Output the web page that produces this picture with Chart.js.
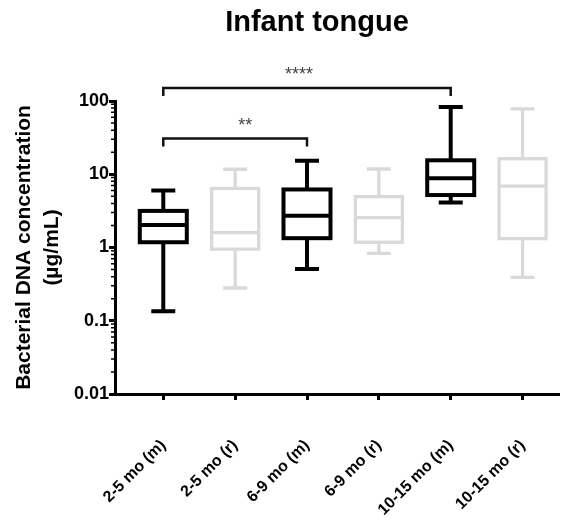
<!DOCTYPE html>
<html>
<head>
<meta charset="utf-8">
<script src="https://cdn.jsdelivr.net/npm/chart.js@4.4.1/dist/chart.umd.min.js"></script>
<style>
    html, body { margin: 0; padding: 0; background: #fff; }
    #wrap { width: 569px; height: 525px; }
</style>
</head>
<body>
<div id="wrap"><canvas id="tongueChart"></canvas></div>
<script>
// data (whisker ends, quartiles, median), ug/mL
const categories = ['2-5 mo (m)', '2-5 mo (r)', '6-9 mo (m)', '6-9 mo (r)', '10-15 mo (m)', '10-15 mo (r)'];
const whiskerLow = [0.135, 0.28, 0.51, 0.83, 4.1, 0.39];
const q1Values = [1.18, 0.95, 1.34, 1.18, 5.2, 1.32];
const medianValues = [2.03, 1.6, 2.72, 2.56, 8.8, 6.9];
const q3Values = [3.16, 6.4, 6.2, 4.95, 15.5, 16.3];
const whiskerHigh = [6.0, 11.7, 15.3, 11.8, 83, 78];
const yTicks = [0.01, 0.1, 1, 10, 100];
// significance brackets: [from category, to category, label]
const comparisons = [[0, 4, '****'], [0, 2, '**']];

const FONT = "'Liberation Sans', Arial, sans-serif";
const BLACK = '#000000';
const GREY = '#d9d9d9';

const boxPlot = {
    id: 'boxPlot',
    afterDatasetsDraw(chart) {
        const {ctx, scales: {x, y}} = chart;
        categories.forEach((cat, i) => {
            const matched = cat.indexOf('(m)') >= 0;
            const cx = x.getPixelForValue(i);
            const hw = 23.5, cap = 12;
            const pLow = y.getPixelForValue(whiskerLow[i]);
            const pQ1 = y.getPixelForValue(q1Values[i]);
            const pMed = y.getPixelForValue(medianValues[i]);
            const pQ3 = y.getPixelForValue(q3Values[i]);
            const pHigh = y.getPixelForValue(whiskerHigh[i]);

            ctx.save();
            ctx.strokeStyle = matched ? BLACK : GREY;
            ctx.lineWidth = matched ? 4 : 3.3;
            ctx.beginPath();
            ctx.moveTo(cx, pQ3); ctx.lineTo(cx, pHigh);
            ctx.moveTo(cx - cap, pHigh); ctx.lineTo(cx + cap, pHigh);
            ctx.moveTo(cx, pQ1); ctx.lineTo(cx, pLow);
            ctx.moveTo(cx - cap, pLow); ctx.lineTo(cx + cap, pLow);
            ctx.stroke();

            ctx.fillStyle = '#fff';
            ctx.fillRect(cx - hw, pQ3, hw * 2, pQ1 - pQ3);
            ctx.strokeRect(cx - hw, pQ3, hw * 2, pQ1 - pQ3);
            ctx.beginPath();
            ctx.moveTo(cx - hw, pMed); ctx.lineTo(cx + hw, pMed);
            ctx.stroke();
            ctx.restore();
        });
    },
    afterDraw(chart) {
        const {ctx, chartArea, scales: {x, y}} = chart;
        ctx.save();

        // minor ticks of the log axis
        ctx.strokeStyle = BLACK;
        ctx.lineWidth = 1.5;
        ctx.beginPath();
        for (let d = -2; d < 2; d++) {
            for (let k = 2; k <= 9; k++) {
                const py = y.getPixelForValue(k * Math.pow(10, d));
                ctx.moveTo(chartArea.left - 4, py);
                ctx.lineTo(chartArea.left, py);
            }
        }
        ctx.stroke();

        // title
        ctx.fillStyle = BLACK;
        ctx.font = 'bold 29px ' + FONT;
        ctx.textAlign = 'center';
        ctx.textBaseline = 'alphabetic';
        ctx.fillText('Infant tongue', 317, 31);

        // brackets (stars sit a bit off-centre in the original)
        const levels = [chartArea.top - 13, chartArea.top + 37.5];
        const starShift = [-8, 10];
        ctx.lineWidth = 2.5;
        ctx.strokeStyle = '#111';
        comparisons.forEach((c, k) => {
            const x1 = x.getPixelForValue(c[0]);
            const x2 = x.getPixelForValue(c[1]);
            const ly = levels[k];
            ctx.beginPath();
            ctx.moveTo(x1, ly + 8);
            ctx.lineTo(x1, ly);
            ctx.lineTo(x2, ly);
            ctx.lineTo(x2, ly + 8);
            ctx.stroke();
            ctx.fillStyle = '#444';
            ctx.font = '18px ' + FONT;
            ctx.fillText(c[2], (x1 + x2) / 2 + starShift[k], ly - 8);
        });
        ctx.restore();
    }
};

new Chart(document.getElementById('tongueChart'), {
    type: 'scatter',
    data: {
        labels: categories,
        datasets: []
    },
    options: {
        responsive: true,
        maintainAspectRatio: false,
        animation: false,
        layout: {
            padding: {top: 101, right: 10, bottom: 0, left: 0}
        },
        plugins: {
            legend: {display: false},
            tooltip: {enabled: false}
        },
        scales: {
            x: {
                type: 'linear',
                min: -0.672,
                max: 5.507,
                offset: false,
                afterBuildTicks: s => { s.ticks = categories.map((c, i) => ({value: i})); },
                afterFit: s => { s.height = 131; s.paddingRight = 0; s.paddingLeft = 0; },
                border: {display: true, color: BLACK, width: 3},
                grid: {offset: false, drawOnChartArea: false, tickLength: 6, tickWidth: 3, tickColor: BLACK},
                ticks: {
                    autoSkip: false,
                    minRotation: 45,
                    maxRotation: 45,
                    padding: 36,
                    color: BLACK,
                    font: {family: FONT, size: 16, weight: 'bold'},
                    callback: v => categories[v]
                }
            },
            y: {
                type: 'logarithmic',
                min: 0.01,
                max: 100,
                afterBuildTicks: s => { s.ticks = yTicks.map(v => ({value: v, major: true})); },
                afterFit: s => { s.width = 115; },
                border: {display: true, color: BLACK, width: 3},
                grid: {drawOnChartArea: false, tickLength: 6, tickWidth: 3, tickColor: BLACK},
                ticks: {
                    autoSkip: false,
                    padding: 0,
                    color: BLACK,
                    font: {family: FONT, size: 18, weight: 'bold'},
                    callback: v => String(v)
                },
                title: {
                    display: true,
                    text: ['Bacterial DNA concentration', '(µg/mL)'],
                    color: BLACK,
                    font: {family: FONT, size: 21, weight: 'bold', lineHeight: 1.3},
                    padding: {top: 11, bottom: 0}
                }
            }
        }
    },
    plugins: [boxPlot]
});
</script>
</body>
</html>
